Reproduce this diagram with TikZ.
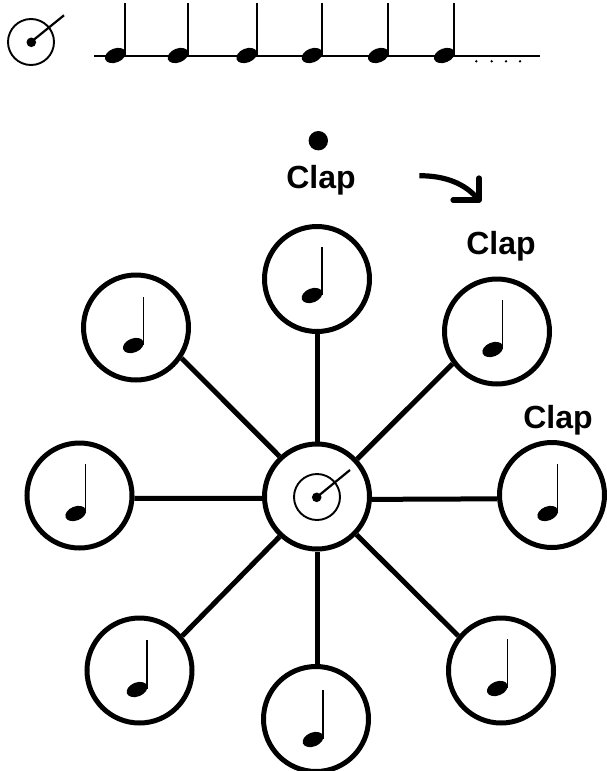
\documentclass[tikz,border=0pt]{standalone}
\usepackage{fontspec}
\setmainfont{Liberation Sans}
\newcommand{\qnote}[4][1.2pt]{% stem x, head centre y, stem top y
  \fill[rotate around={22:(#2-10,#3)}] (#2-10,#3) ellipse (10.8 and 7);
  \draw[line width=#1] (#2,#3-1) -- (#2,#4);}
\tikzset{
  x=1pt,y=-1pt,
  notecircle/.style={circle,draw,line width=5pt,minimum size=105pt,inner sep=0pt},
  spoke/.style={line width=5pt},
  clocklines/.style={line width=1.9pt},
  claptext/.style={font=\bfseries\fontsize{32}{34}\selectfont,inner sep=0pt,anchor=base}
}
\begin{document}
\begin{tikzpicture}
\useasboundingbox (0,0) rectangle (607,771);
% top clock
\draw[clocklines] (31,42) circle (23);
\fill (31.3,42.3) circle (4.8);
\draw[line width=2.2pt] (31,42) -- (64,15.3);
% staff
\draw[line width=1.6pt] (94.3,55.7) -- (539.5,55.7);
\foreach \x in {125.3,188,256.7,322,388.3,454.3} {\qnote[2pt]{\x}{55.5}{3}}
\foreach \x in {476.3,491.7,506,520} {\fill (\x,61.3) circle (1.3);}
% clap marker
\fill (318.3,140.7) circle (9.7);
\node[claptext] (c1) at (321,188) {Clap};
\node[claptext] (c2) at (501,254) {Clap};
\node[claptext] (c3) at (558,428) {Clap};
% turn arrow
\draw[line width=5.2pt] (419.3,175.7) .. controls (446,175.7) and (465,184) .. (477,198);
\draw[line width=5.2pt,line cap=round,line join=round] (479,178) -- (479,200) -- (453,200);
% wheel
\node[notecircle] (hub) at (317,496.5) {};
\node[notecircle] (n1) at (317,279) {};
\node[notecircle] (n2) at (497,331.5) {};
\node[notecircle] (n3) at (552,495) {};
\node[notecircle] (n4) at (501,670.5) {};
\node[notecircle] (n5) at (316,719) {};
\node[notecircle] (n6) at (139.5,670.5) {};
\node[notecircle] (n7) at (79.5,495.5) {};
\node[notecircle] (n8) at (136,327.5) {};
\draw[spoke] (hub.90) -- (n1.-90);
\draw[spoke] (hub.43) -- (n2.216.7);
\draw[spoke] (hub.-3.3) -- (n3.184.7);
\draw[spoke] (hub.-44.6) -- (n4.141);
\draw[spoke] (hub.-90) -- (hub.-90 |- n5.north);
\draw[spoke] (hub.227.6) -- (n6.39.7);
\draw[spoke] (hub.182) -- (n7.-3);
\draw[spoke] (hub.133) -- (n8.-34);
\qnote{322}{295.5}{247}
\qnote{502.7}{349.5}{300}
\qnote{557.7}{513.5}{464}
\qnote{507.3}{688.5}{639}
\qnote{323}{739.5}{690}
\qnote{147}{689.5}{640}
\qnote{85.7}{513.5}{464}
\qnote{143.3}{345.5}{297}
% hub clock
\draw[clocklines] (317,497) circle (23);
\fill (316.7,497.3) circle (4.8);
\draw[line width=2.2pt] (317,497) -- (350,470);
\end{tikzpicture}
\end{document}
